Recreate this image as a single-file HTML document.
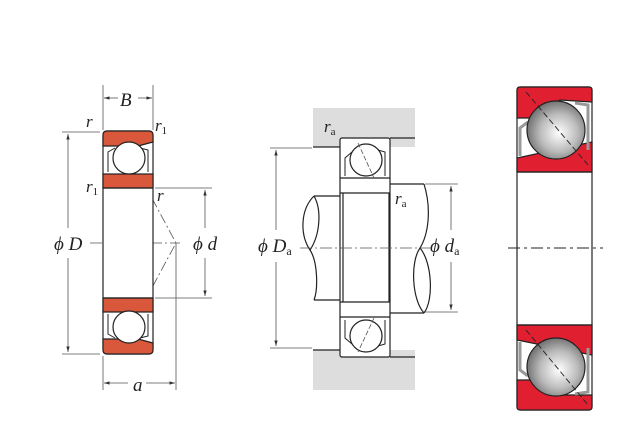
<!DOCTYPE html><html><head><style>body{margin:0;background:#fff}svg{display:block}text{font-family:"Liberation Serif",serif;font-style:italic;fill:#222}</style></head><body>
<svg width="640" height="440" viewBox="0 0 640 440" xmlns="http://www.w3.org/2000/svg">
<defs>
<radialGradient id="bg" cx="0.55" cy="0.55" r="0.65"><stop offset="0" stop-color="#fff"/><stop offset="0.5" stop-color="#bbb"/><stop offset="1" stop-color="#555"/></radialGradient>
<marker id="ar" viewBox="0 0 10 10" refX="10" refY="5" markerWidth="7" markerHeight="7" orient="auto-start-reverse"><path d="M0,2L10,5L0,8z" fill="#333"/></marker>
</defs>
<g stroke="#555" stroke-width="0.8" fill="none">
<line x1="103" y1="85" x2="103" y2="130"/><line x1="153" y1="85" x2="153" y2="130"/>
<line x1="104" y1="98" x2="118" y2="98" marker-start="url(#ar)"/><line x1="138" y1="98" x2="152" y2="98" marker-end="url(#ar)"/>
<line x1="62" y1="132" x2="100" y2="132"/><line x1="62" y1="354" x2="100" y2="354"/>
<line x1="68" y1="134" x2="68" y2="228" marker-start="url(#ar)"/><line x1="68" y1="258" x2="68" y2="352" marker-end="url(#ar)"/>
<line x1="155" y1="188" x2="212" y2="188"/><line x1="155" y1="298" x2="212" y2="298"/>
<line x1="205" y1="190" x2="205" y2="228" marker-start="url(#ar)"/><line x1="205" y1="258" x2="205" y2="296" marker-end="url(#ar)"/>
<line x1="103" y1="356" x2="103" y2="390"/><line x1="176" y1="243" x2="176" y2="390"/>
<line x1="104" y1="383" x2="128" y2="383" marker-start="url(#ar)"/><line x1="146" y1="383" x2="175" y2="383" marker-end="url(#ar)"/>
<line x1="90" y1="243" x2="180" y2="243" stroke-dasharray="12,3,2,3"/>
<polyline points="118,135 176,243 118,351" stroke-dasharray="10,3,2,3"/>
</g>
<g stroke="#222" stroke-width="1.2">
<rect x="103" y="131" width="50" height="223" rx="4" fill="#fff"/>
<path d="M103,145 L103,135 Q103,131 107,131 L149,131 Q153,131 153,135 L153,142 L138,146 L112,146 L103,146z" fill="#d9573a"/>
<rect x="103" y="174" width="50" height="14" fill="#d9573a"/>
<rect x="103" y="298" width="50" height="14" fill="#d9573a"/>
<path d="M103,340 L103,350 Q103,354 107,354 L149,354 Q153,354 153,350 L153,343 L138,339 L103,339z" fill="#d9573a"/>
<line x1="103" y1="188" x2="153" y2="188"/><line x1="103" y1="298" x2="153" y2="298"/>
<path d="M108,172 L108,152 L115,148 M148,172 L148,150 L140,148" fill="none" stroke-width="1"/>
<path d="M108,314 L108,334 L115,338 M148,314 L148,336 L140,338" fill="none" stroke-width="1"/>
<circle cx="129" cy="158" r="16" fill="#fff"/>
<circle cx="129" cy="327" r="16" fill="#fff"/>
</g>
<rect x="313" y="108" width="102" height="39" fill="#ddd"/>
<rect x="313" y="350" width="102" height="40" fill="#ddd"/>
<g stroke="#222" stroke-width="1.2" fill="none">
<line x1="313" y1="147" x2="340" y2="147"/><line x1="390" y1="138" x2="415" y2="138"/>
<line x1="313" y1="350" x2="340" y2="350"/><line x1="390" y1="357" x2="415" y2="357"/>
<path d="M340,196 L314,196 C300,210 300,235 310,250 C318,262 312,290 314,300 L340,300z" fill="#fff" stroke="none"/>
<path d="M340,196 L314,196 M340,300 L314,300"/>
<path d="M314,196 C300,210 300,235 310,250 C318,262 318,290 314,300"/>
<path d="M314,196 C322,210 320,235 310,250"/>
<path d="M390,184 L424,184 C432,210 428,235 420,248 C410,262 412,300 424,313 L390,313z" fill="#fff" stroke="none"/>
<path d="M390,184 L424,184 M390,313 L424,313"/>
<path d="M424,184 C432,210 428,235 420,248 C410,262 412,300 424,313"/>
<path d="M420,248 C432,262 434,300 424,313"/>
<rect x="340" y="138" width="50" height="219" rx="2" fill="#fff"/>
<line x1="343" y1="193" x2="343" y2="302"/><line x1="389" y1="193" x2="389" y2="302"/>
<line x1="340" y1="178" x2="390" y2="178"/><line x1="340" y1="193" x2="390" y2="193"/>
<line x1="340" y1="302" x2="390" y2="302"/><line x1="340" y1="317" x2="390" y2="317"/>
<path d="M345,176 L345,158 L352,152 M385,176 L385,152 L378,150" stroke-width="1"/>
<path d="M345,320 L345,338 L352,344 M385,320 L385,344 L378,346" stroke-width="1"/>
<circle cx="366" cy="160" r="16" fill="#fff"/>
<circle cx="366" cy="336" r="16" fill="#fff"/>
</g>
<g stroke="#555" stroke-width="0.8" fill="none">
<line x1="270" y1="148" x2="312" y2="148"/><line x1="270" y1="348" x2="312" y2="348"/>
<line x1="276" y1="150" x2="276" y2="230" marker-start="url(#ar)"/><line x1="276" y1="262" x2="276" y2="346" marker-end="url(#ar)"/>
<line x1="425" y1="184" x2="458" y2="184"/><line x1="425" y1="312" x2="458" y2="312"/>
<line x1="451" y1="186" x2="451" y2="230" marker-start="url(#ar)"/><line x1="451" y1="262" x2="451" y2="310" marker-end="url(#ar)"/>
<line x1="300" y1="248" x2="430" y2="248" stroke-dasharray="12,3,2,3"/>
<line x1="358" y1="143" x2="374" y2="178" stroke-dasharray="5,2"/>
<line x1="374" y1="318" x2="358" y2="352" stroke-dasharray="5,2"/>
</g>
<g stroke="#222" stroke-width="1.2">
<rect x="517" y="87" width="75" height="323" rx="3" fill="#fff"/>
<path d="M517,118 L517,90 Q517,87 520,87 L589,87 Q592,87 592,90 L592,102 L560,100 L530,118z" fill="#e02030"/>
<path d="M517,380 L517,407 Q517,410 520,410 L589,410 Q592,410 592,407 L592,395 L560,395 L530,380z" fill="#e02030"/>
<path d="M517,172 L517,158 L592,142 L592,172z" fill="#e02030"/>
<path d="M517,325 L517,340 L592,355 L592,325z" fill="#e02030"/>
<line x1="517" y1="172" x2="592" y2="172"/><line x1="517" y1="325" x2="592" y2="325"/>
<path d="M520,156 L520,128 L528,122 M588,150 L588,105 L575,103" fill="none" stroke="#999" stroke-width="3"/>
<path d="M520,342 L520,370 L528,376 M588,348 L588,392 L575,394" fill="none" stroke="#999" stroke-width="3"/>
<circle cx="556" cy="130" r="29" fill="url(#bg)"/>
<circle cx="556" cy="367" r="29" fill="url(#bg)"/>
</g>
<g stroke="#222" stroke-width="0.9" fill="none">
<line x1="508" y1="248" x2="603" y2="248" stroke-dasharray="12,4,3,4"/>
<line x1="526" y1="92" x2="588" y2="165" stroke-dasharray="6,3"/>
<line x1="526" y1="330" x2="588" y2="405" stroke-dasharray="6,3"/>
</g>
<text x="120" y="106" font-size="19">B</text>
<text x="86" y="127" font-size="17">r</text>
<text x="155" y="131" font-size="17">r<tspan font-size="11" font-style="normal" dy="3">1</tspan></text>
<text x="86" y="192" font-size="17">r<tspan font-size="11" font-style="normal" dy="3">1</tspan></text>
<text x="157" y="201" font-size="17">r</text>
<text x="54" y="250" font-size="19">ϕ D</text>
<text x="193" y="250" font-size="19">ϕ d</text>
<text x="133" y="391" font-size="19">a</text>
<text x="324" y="132" font-size="17">r<tspan font-size="11" font-style="normal" dy="3">a</tspan></text>
<text x="395" y="204" font-size="17">r<tspan font-size="11" font-style="normal" dy="3">a</tspan></text>
<text x="258" y="252" font-size="19">ϕ D<tspan font-size="12" font-style="normal" dy="3">a</tspan></text>
<text x="430" y="252" font-size="19">ϕ d<tspan font-size="12" font-style="normal" dy="3">a</tspan></text>
</svg></body></html>
